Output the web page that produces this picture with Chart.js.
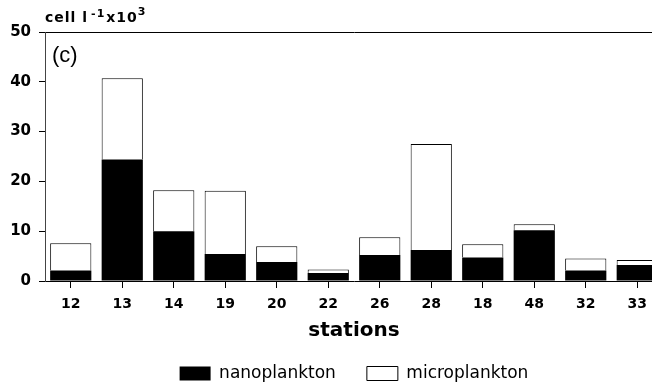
<!DOCTYPE html>
<html>
<head>
<meta charset="utf-8">
<script src="https://cdn.jsdelivr.net/npm/chart.js@4/dist/chart.umd.min.js"></script>
<style>
  html, body { margin: 0; padding: 0; background: #fff; overflow: hidden; }
  #wrap { position: relative; width: 680px; height: 392px; }
</style>
</head>
<body>
<div id="wrap"><canvas id="c"></canvas></div>
<script>
// Sampling stations, in the order they are plotted
const stations = ['12', '13', '14', '19', '20', '22', '26', '28', '18', '48', '32', '33'];
// Abundance, cells per litre x 10^3
const nanoplankton  = [2.1, 24.4, 10.0, 5.4, 3.8, 1.6, 5.2, 6.2, 4.7, 10.2, 2.1, 3.2];
const microplankton = [5.5, 16.3, 8.2, 12.7, 3.2, 0.7, 3.6, 21.3, 2.7, 1.2, 2.4, 1.0];
// Y axis ticks
const yTicks = [0, 10, 20, 30, 40, 50];

const SANS = '"DejaVu Sans", sans-serif';

// Unit label above the y axis and the panel letter inside the plot
const annotations = {
  id: 'annotations',
  afterDraw(chart) {
    const { ctx, chartArea } = chart;
    ctx.save();
    ctx.fillStyle = '#000';
    ctx.textBaseline = 'alphabetic';
    ctx.textAlign = 'left';
    ctx.letterSpacing = '1px';
    let x = chartArea.left;
    const base = chartArea.top - 10;
    const parts = [
      ['cell l', 'bold 14px ' + SANS, 0, 3],
      ['-1', 'bold 11px ' + SANS, -5, 1],
      ['x10', 'bold 14px ' + SANS, 0, 0],
      ['3', 'bold 11px ' + SANS, -7, 0]
    ];
    for (const [t, f, dy, gap] of parts) {
      ctx.font = f;
      ctx.fillText(t, x, base + dy);
      x += ctx.measureText(t).width + gap;
    }
    ctx.letterSpacing = '0px';
    ctx.font = '22px "Liberation Sans", Arial, sans-serif';
    ctx.fillText('(c)', chartArea.left + 7, chartArea.top + 30);
    ctx.restore();
  }
};

new Chart(document.getElementById('c'), {
  type: 'bar',
  data: {
    labels: stations,
    datasets: [
      {
        label: 'nanoplankton',
        data: nanoplankton,
        backgroundColor: '#000',
        borderColor: '#000',
        borderWidth: 0
      },
      {
        label: 'microplankton',
        data: microplankton,
        backgroundColor: '#fff',
        borderColor: '#000',
        borderWidth: 1
      }
    ]
  },
  options: {
    responsive: true,
    maintainAspectRatio: false,
    animation: false,
    events: [],
    layout: { padding: { left: 0, right: 17, top: 32, bottom: 0 } },
    datasets: { bar: { barPercentage: 1.0, categoryPercentage: 0.8 } },
    scales: {
      x: {
        stacked: true,
        afterFit(scale) { scale.height = 53; },
        border: { display: true, color: '#000', width: 1 },
        grid: {
          display: true,
          drawOnChartArea: false,
          offset: false,
          tickLength: 7,
          color: '#000'
        },
        ticks: {
          color: '#000',
          padding: 8,
          font: { family: SANS, size: 14, weight: 'bold' }
        },
        title: {
          display: true,
          text: 'stations',
          color: '#000',
          padding: { top: 0, bottom: -9 },
          font: { family: SANS, size: 20, weight: 'bold' }
        }
      },
      y: {
        stacked: true,
        min: 0,
        max: 50,
        afterFit(scale) { scale.width = 45; },
        afterBuildTicks(scale) { scale.ticks = yTicks.map(v => ({ value: v })); },
        border: { display: true, color: '#444', width: 1 },
        grid: {
          drawOnChartArea: true,
          tickLength: 6,
          tickColor: '#000',
          color: ctx => (ctx.tick && ctx.tick.value === 50 ? '#000' : 'rgba(0,0,0,0)')
        },
        ticks: {
          color: '#000',
          padding: 8,
          font: { family: SANS, size: 15, weight: 'bold' }
        }
      }
    },
    plugins: {
      tooltip: { enabled: false },
      legend: {
        position: 'bottom',
        fullSize: false,
        labels: {
          color: '#000',
          boxWidth: 31,
          boxHeight: 14,
          padding: 31,
          font: { family: SANS, size: 17 }
        }
      }
    }
  },
  plugins: [annotations]
});
</script>
</body>
</html>
